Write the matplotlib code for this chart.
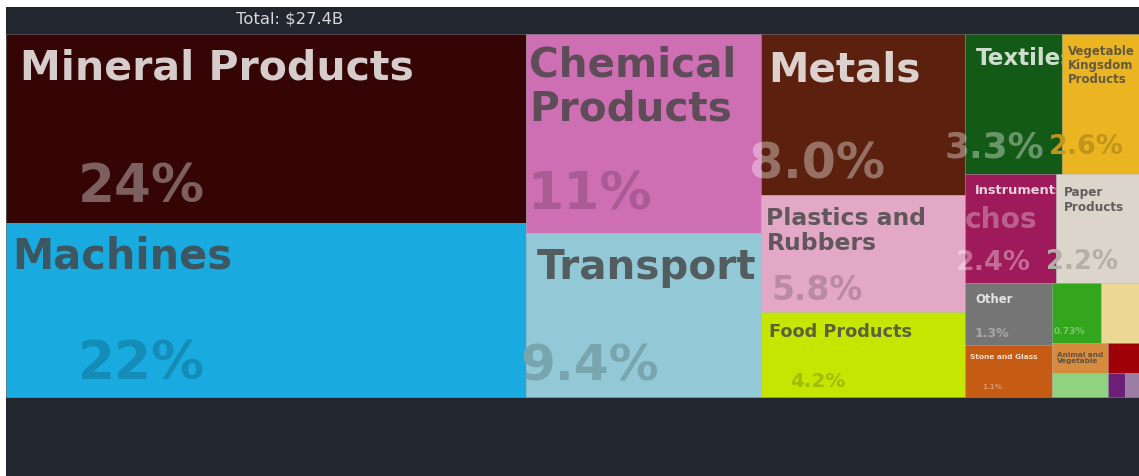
import matplotlib
matplotlib.use("Agg")
import matplotlib.pyplot as plt
from matplotlib.patches import Rectangle
from matplotlib.transforms import Bbox

# ---------------------------------------------------------------- data
sectors = [
    "Mineral Products", "Machines", "Chemical Products", "Transport", "Metals",
    "Plastics and Rubbers", "Food Products", "Textiles", "Vegetable Kingsdom Products",
    "Instruments", "Paper Products", "Other", "Stone and Glass", "Wood Products",
    "Animal Products", "Animal and Vegetable Bi-Products", "Footwear and Headwear",
    "Precious Metals", "Weapons", "Miscellaneous",
]
share_pct = [23.9, 22.0, 11.4, 9.4, 8.0, 5.8, 4.2, 3.3, 2.6, 2.4, 2.2, 1.3, 1.1,
             0.73, 0.55, 0.41, 0.33, 0.23, 0.10, 0.08]
total_usd_b = 27.4

# ---------------------------------------------------------------- styles
sector_colors = {
    "Mineral Products": "#350506", "Machines": "#19abdf", "Chemical Products": "#cf6fb3",
    "Transport": "#93c9d6", "Metals": "#5b200e", "Plastics and Rubbers": "#e2a8c6",
    "Food Products": "#c4e600", "Textiles": "#145a17",
    "Vegetable Kingsdom Products": "#ebb521", "Instruments": "#9e1a5a",
    "Paper Products": "#dbd5cc", "Other": "#757575", "Stone and Glass": "#c65c14",
    "Wood Products": "#33a61e", "Animal Products": "#ebd894",
    "Animal and Vegetable Bi-Products": "#d78b3c", "Footwear and Headwear": "#8fd27f",
    "Precious Metals": "#a00008", "Weapons": "#6c1f76", "Miscellaneous": "#9b7ea4",
}

# name label: (text, size px, left pad px, top pad px); share label size px
name_labels = {
    "Mineral Products": ("Mineral Products", 41, 14, 15),
    "Machines": ("Machines", 41.5, 6, 13),
    "Chemical Products": ("Chemical\nProducts", 40.5, 3, 12),
    "Transport": ("Transport", 40.5, 11, 15),
    "Metals": ("Metals", 40.5, 7, 17),
    "Plastics and Rubbers": ("Plastics and\nRubbers", 23.5, 5, 11),
    "Food Products": ("Food Products", 17.8, 8, 10),
    "Textiles": ("Textiles", 23, 11, 13),
    "Vegetable Kingsdom Products": ("Vegetable\nKingsdom\nProducts", 11.7, 5, 10),
    "Instruments": ("Instruments", 12.9, 10, 10),
    "Paper Products": ("Paper\nProducts", 12, 8, 12),
    "Other": ("Other", 11.6, 10, 10),
    "Stone and Glass": ("Stone and Glass", 7.4, 5, 9),
    "Animal and Vegetable Bi-Products": ("Animal and\nVegetable", 7.3, 5, 8),
}
share_sizes = {
    "Mineral Products": 53, "Machines": 53, "Chemical Products": 52, "Transport": 50,
    "Metals": 49, "Plastics and Rubbers": 33, "Food Products": 20, "Textiles": 36,
    "Vegetable Kingsdom Products": 27, "Instruments": 27, "Paper Products": 26,
    "Other": 12.5, "Wood Products": 9.2, "Stone and Glass": 7.2,
}

W, H, DPI = 1139, 477, 100
BG = "#21262f"
MAP_BOX = (6, 35, 1139, 398)      # x0, y0, x1, y1 in pixels


def px(size):
    return size * 72.0 / DPI


def squarify(values, x0, y0, x1, y1, ratio=(1 + 5 ** 0.5) / 2):
    """Squarified treemap (d3 style); returns (x, y, w, h) per value."""
    rects = [None] * len(values)
    order = sorted(range(len(values)), key=lambda i: -values[i])
    remaining = float(sum(values))
    n = len(order)
    i0 = 0
    while i0 < n:
        dx, dy = x1 - x0, y1 - y0
        s = values[order[i0]]
        vmin = vmax = s
        alpha = max(dy / dx, dx / dy) / (remaining * ratio)
        beta = s * s * alpha
        best = max(vmax / beta, beta / vmin)
        i1 = i0 + 1
        while i1 < n:
            v = values[order[i1]]
            s2 = s + v
            beta = s2 * s2 * alpha
            r = max(max(vmax, v) / beta, beta / min(vmin, v))
            if r > best:
                break
            s, best = s2, r
            vmin, vmax = min(vmin, v), max(vmax, v)
            i1 += 1
        row = order[i0:i1]
        if i1 >= n:
            # the last row fills the leftover box, split along its long side
            side_by_side = dx >= dy
            strip = (x0, y0, x1, y1)
        elif dx < dy:
            side_by_side = True
            hh = dy * s / remaining
            strip = (x0, y0, x1, y0 + hh)
            y0 += hh
        else:
            side_by_side = False
            ww = dx * s / remaining
            strip = (x0, y0, x0 + ww, y1)
            x0 += ww
        sx0, sy0, sx1, sy1 = strip
        pos = sx0 if side_by_side else sy0
        for i in row:
            f = values[i] / s
            if side_by_side:
                ww = (sx1 - sx0) * f
                rects[i] = (pos, sy0, ww, sy1 - sy0)
                pos += ww
            else:
                hh = (sy1 - sy0) * f
                rects[i] = (sx0, pos, sx1 - sx0, hh)
                pos += hh
        remaining -= s
        i0 = i1
    return rects


def hex_rgb(c):
    c = c.lstrip("#")
    return tuple(int(c[k:k + 2], 16) / 255.0 for k in (0, 2, 4))


def is_dark(c):
    r, g, b = hex_rgb(c)
    return (r * 299 + g * 587 + b * 114) / 1000.0 < 0.5


def fmt_share(p):
    if p >= 10:
        return f"{p:.0f}%"
    if p >= 1:
        return f"{p:.1f}%"
    return f"{p:.2f}%"


def clip_to_tile(artist, x, y, w, h):
    """Clip a text to its tile (rectangle clip in display pixels)."""
    artist.set_clip_path(None)
    artist.set_clip_box(Bbox([[x, H - y - h], [x + w, H - y]]))
    artist.set_clip_on(True)


# ---------------------------------------------------------------- figure
fig = plt.figure(figsize=(W / DPI, H / DPI), dpi=DPI, facecolor="white")
ax = fig.add_axes([0, 0, 1, 1])
ax.set_xlim(0, W)
ax.set_ylim(H, 0)
ax.axis("off")

ax.add_patch(Rectangle((6, 8), W - 6, H - 8, facecolor=BG, edgecolor="none", zorder=0))
ax.text(290, 23, f"Total: ${total_usd_b:.1f}B", ha="center", va="baseline",
        fontsize=px(16.4), color="#d8d8d8", family="DejaVu Sans", zorder=1)

rects = squarify(share_pct, *MAP_BOX)

z = 2
for name, pct, (x, y, w, h) in zip(sectors, share_pct, rects):
    color = sector_colors[name]
    dark = is_dark(color)
    ax.add_patch(Rectangle((x, y), w, h, facecolor=color,
                           edgecolor=(1, 1, 1, 0.22), linewidth=0.7, zorder=z))

    if name in name_labels:
        text, size, pad_x, pad_y = name_labels[name]
        tcolor = (1, 1, 1, 0.8) if dark else (0.27, 0.27, 0.27, 0.82)
        t = ax.text(x + pad_x, y + pad_y - 0.03 * size, text, ha="left", va="top",
                    fontsize=px(size), fontweight="bold", color=tcolor,
                    linespacing=1.12, family="DejaVu Sans", zorder=z + 0.5)
        clip_to_tile(t, x, y, w, h)

    if name in share_sizes:
        size = share_sizes[name]
        if dark:
            scolor = (1, 1, 1, 0.36)
        else:
            r, g, b = hex_rgb(color)
            scolor = (r * 0.82, g * 0.82, b * 0.82)
        ax.text(x + w / 4 + 5, y + 0.78 * h + 0.365 * size, fmt_share(pct),
                ha="center", va="baseline", fontsize=px(size), fontweight="bold",
                color=scolor, family="DejaVu Sans", zorder=z + 0.6)
    z += 1

# faint leftover label showing through the Instruments tile
ix, iy, iw, ih = rects[sectors.index("Instruments")]
ghost = ax.text(ix - 1, iy + 32 - 0.03 * 28, "chos", ha="left", va="top",
                fontsize=px(28), fontweight="bold", color=(1, 1, 1, 0.3),
                family="DejaVu Sans", zorder=z + 1)
clip_to_tile(ghost, ix, iy, iw, ih)

fig.savefig("out.png", dpi=DPI, facecolor=fig.get_facecolor())
